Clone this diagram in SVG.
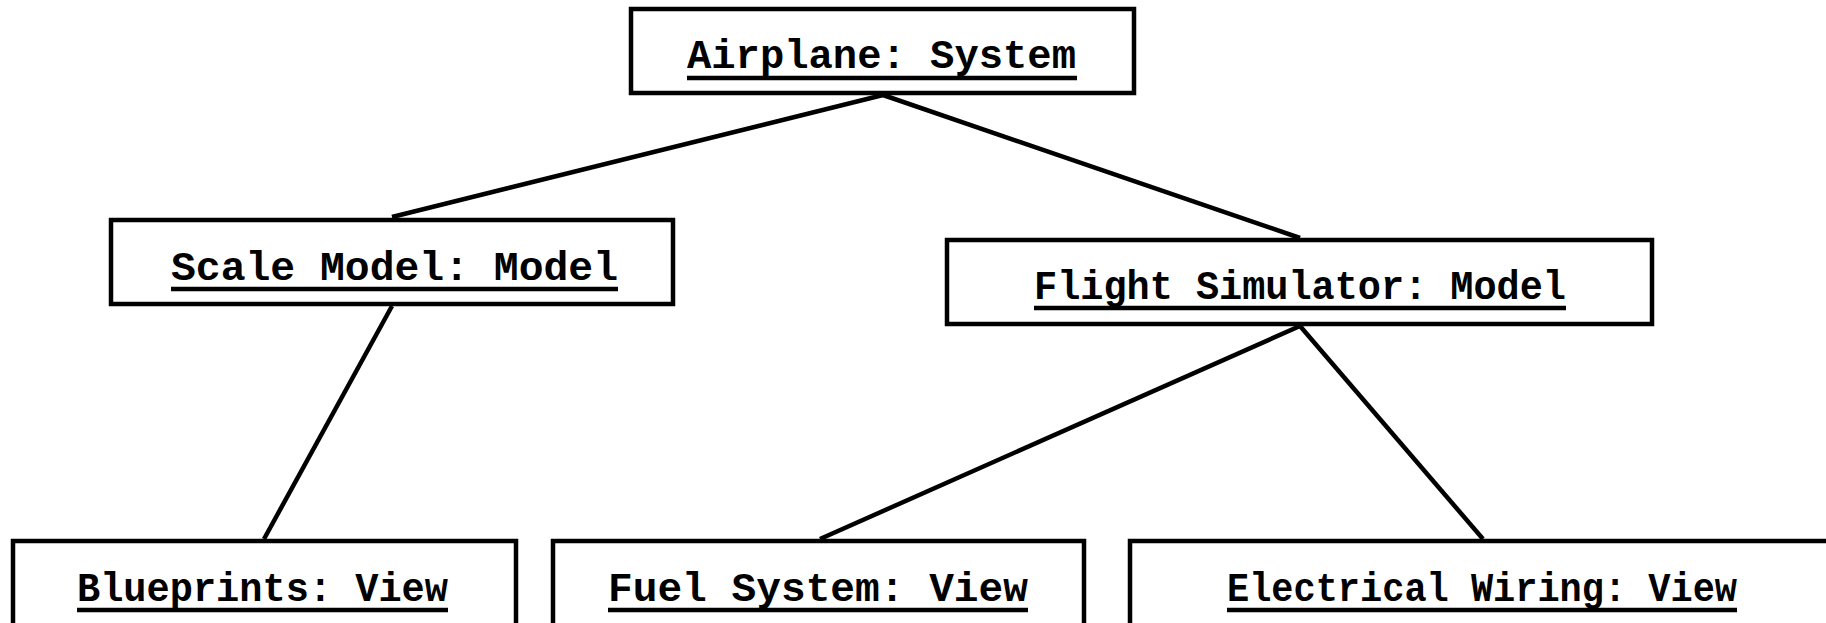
<svg xmlns="http://www.w3.org/2000/svg" width="1826" height="623" viewBox="0 0 1826 623">
  <style>
    .box { fill: #ffffff; stroke: #000000; stroke-width: 4.5; }
    .label { font-family: "Liberation Mono", "Courier New", monospace; font-weight: bold; font-size: 41px; fill: #000000; text-anchor: start; }
    .uline { stroke: #000000; stroke-width: 4.5; }
    .edge { stroke: #000000; stroke-width: 4.5; fill: none; }
  </style>
  <rect x="0" y="0" width="1826" height="623" fill="#ffffff"/>

  <!-- connectors -->
  <g id="connectors">
    <line class="edge" x1="883" y1="95" x2="392" y2="217"/>
    <line class="edge" x1="883" y1="95" x2="1300" y2="238"/>
    <line class="edge" x1="392" y1="306" x2="264" y2="539"/>
    <line class="edge" x1="1300" y1="326" x2="820" y2="539"/>
    <line class="edge" x1="1300" y1="326" x2="1483" y2="539"/>
  </g>

  <!-- Airplane: System -->
  <g id="airplane">
    <rect class="box" x="631" y="9" width="503" height="84"/>
    <text class="label" x="687" y="68" textLength="389" lengthAdjust="spacingAndGlyphs">Airplane: System</text>
    <line class="uline" x1="687" y1="78" x2="1077" y2="78"/>
  </g>

  <!-- Scale Model: Model -->
  <g id="scale-model">
    <rect class="box" x="111" y="220" width="562" height="84"/>
    <text class="label" x="171" y="280" textLength="447" lengthAdjust="spacingAndGlyphs">Scale Model: Model</text>
    <line class="uline" x1="171" y1="289" x2="618" y2="289"/>
  </g>

  <!-- Flight Simulator: Model -->
  <g id="flight-simulator">
    <rect class="box" x="947" y="240" width="705" height="84"/>
    <text class="label" x="1034" y="299" textLength="532" lengthAdjust="spacingAndGlyphs">Flight Simulator: Model</text>
    <line class="uline" x1="1034" y1="308" x2="1566" y2="308"/>
  </g>

  <!-- Blueprints: View -->
  <g id="blueprints">
    <rect class="box" x="13" y="541" width="503" height="100"/>
    <text class="label" x="77" y="601" textLength="371" lengthAdjust="spacingAndGlyphs">Blueprints: View</text>
    <line class="uline" x1="77" y1="610" x2="448" y2="610"/>
  </g>

  <!-- Fuel System: View -->
  <g id="fuel-system">
    <rect class="box" x="553" y="541" width="531" height="100"/>
    <text class="label" x="608" y="601" textLength="420" lengthAdjust="spacingAndGlyphs">Fuel System: View</text>
    <line class="uline" x1="608" y1="610" x2="1028" y2="610"/>
  </g>

  <!-- Electrical Wiring: View -->
  <g id="electrical-wiring">
    <rect class="box" x="1130" y="541" width="720" height="100"/>
    <text class="label" x="1227" y="601" textLength="510" lengthAdjust="spacingAndGlyphs">Electrical Wiring: View</text>
    <line class="uline" x1="1227" y1="610" x2="1737" y2="610"/>
  </g>
</svg>
